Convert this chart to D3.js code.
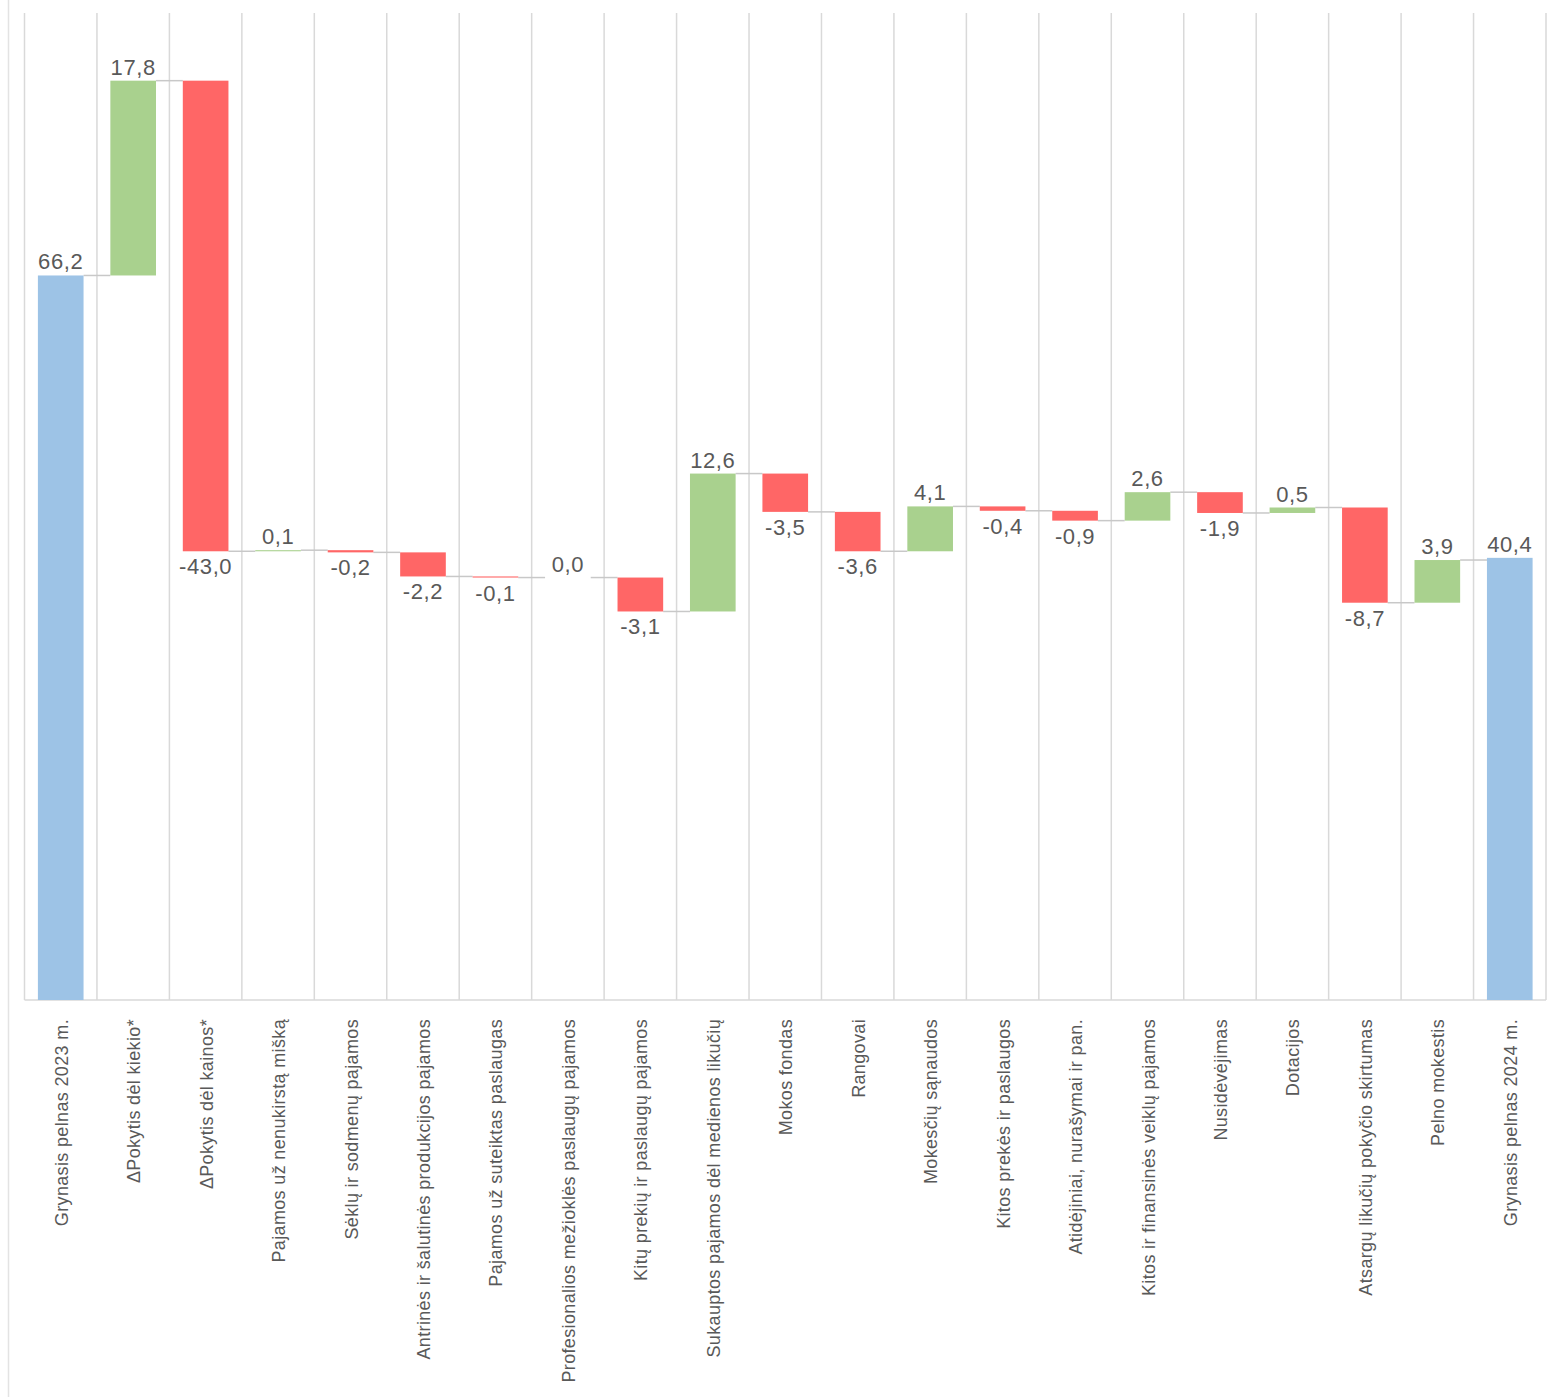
<!DOCTYPE html>
<html>
<head>
<meta charset="utf-8">
<script src="https://cdn.jsdelivr.net/npm/d3@7"></script>
<style>
    body { margin: 0; background: #fff; }
    svg { display: block; font-family: "Liberation Sans", Arial, sans-serif; }
    .value-label { fill: #595959; font-size: 22px; letter-spacing: 0.6px; }
    .cat-label { fill: #595959; font-size: 18px; letter-spacing: 0.35px; }
</style>
</head>
<body>
<div id="chart"></div>
<script>
const categories = [
    'Grynasis pelnas  2023 m.',
    'ΔPokytis dėl kiekio*',
    'ΔPokytis dėl kainos*',
    'Pajamos už nenukirstą mišką',
    'Sėklų ir sodmenų pajamos',
    'Antrinės ir šalutinės produkcijos pajamos',
    'Pajamos už suteiktas paslaugas',
    'Profesionalios mežioklės paslaugų pajamos',
    'Kitų prekių ir paslaugų pajamos',
    'Sukauptos pajamos dėl medienos likučių',
    'Mokos fondas',
    'Rangovai',
    'Mokesčių sąnaudos',
    'Kitos prekės ir paslaugos',
    'Atidėjiniai, nurašymai ir pan.',
    'Kitos ir finansinės veiklų pajamos',
    'Nusidėvėjimas',
    'Dotacijos',
    'Atsargų likučių pokyčio skirtumas',
    'Pelno mokestis',
    'Grynasis pelnas  2024 m.'
];

const values = [66.2, 17.8, -43.0, 0.1, -0.2, -2.2, -0.1, 0.0, -3.1, 12.6, -3.5, -3.6, 4.1, -0.4, -0.9, 2.6, -1.9, 0.5, -8.7, 3.9, 40.4];

// which entries are totals (drawn from zero)
const isTotal = [true, false, false, false, false, false, false, false, false, false, false, false, false, false, false, false, false, false, false, false, true];

const yTicks = [0, 90];

const colors = { total: '#9dc3e6', up: '#a9d18e', down: '#ff6666' };

// build running totals
const rows = [];
let running = 0;
values.forEach((v, i) => {
    let start, end;
    if (isTotal[i]) {
        start = 0;
        end = v;
        running = v;
    } else {
        start = running;
        end = running + v;
        running = end;
    }
    rows.push({ cat: categories[i], value: v, start, end, total: isTotal[i] });
});

const width = 1552, height = 1397;
const margin = { top: 15, right: 6, bottom: 397, left: 24.5 };
const boundedWidth = width - margin.left - margin.right;
const boundedHeight = height - margin.top - margin.bottom;

const svg = d3.select('#chart').append('svg')
    .attr('width', width)
    .attr('height', height);

// outer frame line on the left
svg.append('line')
    .attr('x1', 8.5).attr('x2', 8.5)
    .attr('y1', 0).attr('y2', height)
    .attr('stroke', '#e3e3e3')
    .attr('stroke-width', 1.5);

const viz = svg.append('g')
    .attr('transform', `translate(${margin.left}, ${margin.top})`);

const xScale = d3.scaleBand()
    .domain(categories)
    .range([0, boundedWidth])
    .paddingInner(0.37)
    .paddingOuter(0.185);

const yScale = d3.scaleLinear()
    .domain(d3.extent(yTicks))
    .range([boundedHeight, 0]);

// vertical gridlines between categories
const gridX = d3.range(categories.length + 1).map(i => i * boundedWidth / categories.length);
viz.append('g')
    .selectAll('line')
    .data(gridX)
    .join('line')
    .attr('x1', d => d).attr('x2', d => d)
    .attr('y1', -2).attr('y2', boundedHeight)
    .attr('stroke', '#d9d9d9')
    .attr('stroke-width', 1.5);

// x axis baseline
viz.append('line')
    .attr('x1', 0).attr('x2', boundedWidth)
    .attr('y1', yScale(0)).attr('y2', yScale(0))
    .attr('stroke', '#d9d9d9')
    .attr('stroke-width', 1.5);

// connectors
viz.append('g')
    .selectAll('line')
    .data(rows.slice(0, -1))
    .join('line')
    .attr('x1', d => xScale(d.cat) + xScale.bandwidth())
    .attr('x2', (d, i) => xScale(rows[i + 1].cat))
    .attr('y1', d => yScale(d.end))
    .attr('y2', d => yScale(d.end))
    .attr('stroke', '#c8c8c8')
    .attr('stroke-width', 1.5);

// bars
viz.append('g')
    .selectAll('rect')
    .data(rows)
    .join('rect')
    .attr('x', d => xScale(d.cat))
    .attr('width', xScale.bandwidth())
    .attr('y', d => yScale(Math.max(d.start, d.end)))
    .attr('height', d => Math.abs(yScale(d.start) - yScale(d.end)))
    .attr('fill', d => d.total ? colors.total : (d.value >= 0 ? colors.up : colors.down));

// value labels
const fmt = v => d3.format('.1f')(v).replace('.', ',').replace('−', '-');
viz.append('g')
    .selectAll('text')
    .data(rows)
    .join('text')
    .attr('class', 'value-label')
    .attr('text-anchor', 'middle')
    .attr('x', d => xScale(d.cat) + xScale.bandwidth() / 2)
    .attr('y', d => d.value >= 0
        ? yScale(Math.max(d.start, d.end)) - 6
        : yScale(Math.min(d.start, d.end)) + 23)
    .text(d => fmt(d.value));

// category labels, rotated
viz.append('g')
    .selectAll('text')
    .data(rows)
    .join('text')
    .attr('class', 'cat-label')
    .attr('text-anchor', 'end')
    .attr('transform', d => `translate(${xScale(d.cat) + xScale.bandwidth() / 2 + 7}, ${boundedHeight + 19}) rotate(-90)`)
    .text(d => d.cat);
</script>
</body>
</html>
